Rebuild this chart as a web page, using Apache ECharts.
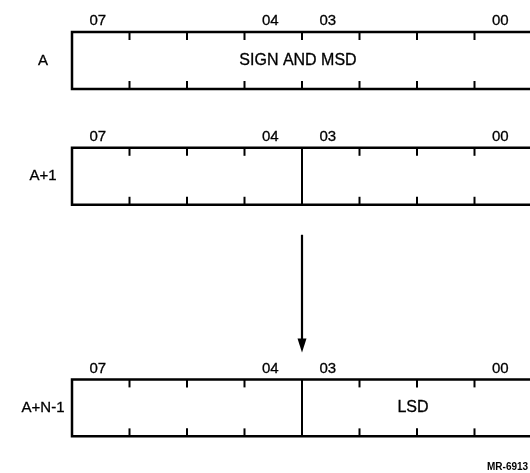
<!DOCTYPE html>
<html>
<head>
<meta charset="utf-8">
<script src="https://cdn.jsdelivr.net/npm/echarts@6/dist/echarts.min.js"></script>
<style>
html,body{margin:0;padding:0;background:#fff;}
#chart{width:530px;height:473px;}
</style>
</head>
<body>
<div id="chart"></div>
<script>
// ---- data ----
const bitLabels = ['07', '04', '03', '00'];
const rowNames = ['A', 'A+1', 'A+N-1'];
const rowSlots = [0, 1, 3];               // vertical slot of each byte row
const rowSplit = [false, true, true];     // nibble divider drawn full height
const rowFieldText = ['SIGN AND MSD', '', 'LSD'];
const rowFieldHi = [7, 7, 3];             // field covers bits hi..lo
const rowFieldLo = [0, 0, 0];
const arrowFromRow = 1;
const arrowToRow = 2;
const figureId = 'MR-6913';

// ---- styles ----
const FONT = 'Liberation Sans, Arial, sans-serif';
const BOX_H = 0.492;   // box height in slot units

const chart = echarts.init(document.getElementById('chart'), null, {renderer: 'canvas'});

function txt(x, y, s, size) {
  return {type: 'text', x: x, y: y,
    style: {text: s, fill: '#000', font: size + 'px ' + FONT, align: 'center', verticalAlign: 'middle',
      stroke: '#000', lineWidth: 0.3}};
}

function rowRender(params, api) {
  const i = api.value(0);
  const slot = rowSlots[i];
  const p0 = api.coord([0, slot]);
  const p8 = api.coord([8, slot]);
  const yTop = p0[1];
  const yBot = api.coord([0, slot + BOX_H])[1];
  const x0 = p0[0], x8 = p8[0];
  const children = [];
  children.push({type: 'rect', shape: {x: x0, y: yTop, width: x8 - x0, height: yBot - yTop},
    style: {fill: 'none', stroke: '#000', lineWidth: 2.5}});
  for (let b = 1; b < 8; b++) {
    const x = api.coord([b, slot])[0];
    if (rowSplit[i] && b === 4) {
      children.push({type: 'line', shape: {x1: x, y1: yTop, x2: x, y2: yBot}, style: {stroke: '#000', lineWidth: 2}});
    } else {
      children.push({type: 'line', shape: {x1: x, y1: yTop, x2: x, y2: yTop + 8}, style: {stroke: '#000', lineWidth: 2}});
      children.push({type: 'line', shape: {x1: x, y1: yBot - 8, x2: x, y2: yBot}, style: {stroke: '#000', lineWidth: 2}});
    }
  }
  bitLabels.forEach(function (l) {
    const cell = 7 - parseInt(l, 10);
    const cx = api.coord([cell + 0.5, slot])[0] - 3;
    children.push(txt(cx, yTop - 11, l, 15));
  });
  children.push(txt(x0 - 29, (yTop + yBot) / 2, rowNames[i], 15));
  if (rowFieldText[i]) {
    const c0 = 7 - rowFieldHi[i], c1 = 8 - rowFieldLo[i];
    const cx = api.coord([(c0 + c1) / 2, slot])[0] - 4;
    children.push(txt(cx, (yTop + yBot) / 2, rowFieldText[i], 16));
  }
  return {type: 'group', children: children};
}

function arrowRender(params, api) {
  const a = rowSlots[arrowFromRow], b = rowSlots[arrowToRow];
  const x = api.coord([4, a])[0];
  const y1 = api.coord([4, a + BOX_H])[1] + 30;
  const y2 = api.coord([4, b])[1] - 27;
  return {type: 'group', children: [
    {type: 'line', shape: {x1: x, y1: y1, x2: x, y2: y2 - 12}, style: {stroke: '#000', lineWidth: 2.2}},
    {type: 'polygon', shape: {points: [[x - 4.5, y2 - 14], [x + 4.5, y2 - 14], [x, y2]]}, style: {fill: '#000'}}
  ]};
}

chart.setOption({
  backgroundColor: '#fff',
  animation: false,
  grid: {left: 72, right: 0, top: 32, bottom: 0},
  xAxis: {type: 'value', min: 0, max: 458 / 57.5, show: false},
  yAxis: {type: 'value', min: 0, max: 441 / 115.8, inverse: true, show: false},
  graphic: [{type: 'text', left: 487, top: 462,
    style: {text: figureId, fill: '#000', font: 'bold 10px ' + FONT}}],
  series: [
    {type: 'custom', clip: false, renderItem: rowRender, data: rowNames.map(function (n, i) { return [i]; })},
    {type: 'custom', clip: false, renderItem: arrowRender, data: [[0]]}
  ]
});
</script>
</body>
</html>
